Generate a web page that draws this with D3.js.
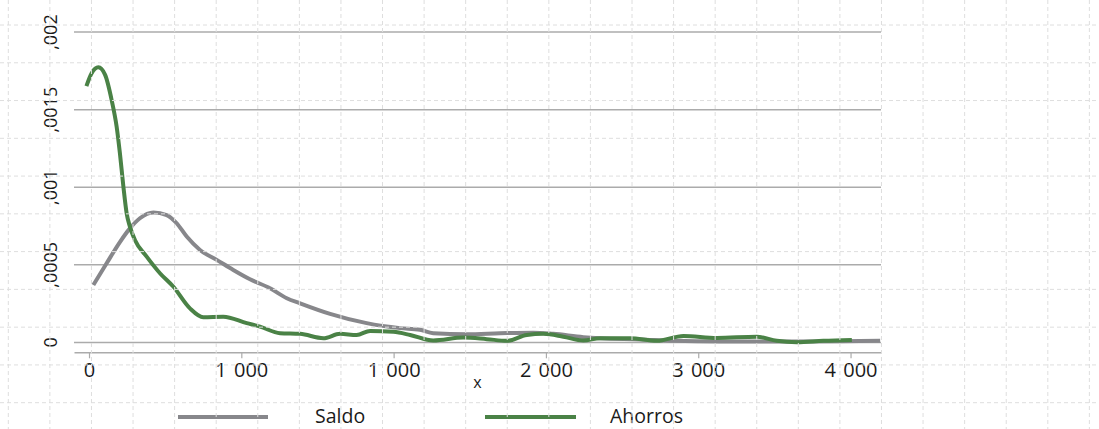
<!DOCTYPE html>
<html>
<head>
<meta charset="utf-8">
<script src="https://cdn.jsdelivr.net/npm/d3@7"></script>
<style>
  html, body { margin: 0; padding: 0; background: #fff; }
  svg { display: block; }
  text { font-family: "Open Sans", sans-serif; fill: #1a1a1a; }
</style>
</head>
<body>
<div id="chart"></div>
<script>
// ---- data ----
const saldoX = [20, 81, 142, 188, 234, 296, 357, 403, 449, 510, 587, 663, 740, 832, 909, 970, 1108, 1276, 1430, 1521, 1582, 1736, 1889, 2042, 2134, 2272, 2349, 2533, 2686, 2901, 3177, 3452, 3636];
const saldoY = [0.000370, 0.000510, 0.000647, 0.000735, 0.000800, 0.000837, 0.000821, 0.000768, 0.000682, 0.000596, 0.000532, 0.000467, 0.000407, 0.000349, 0.000285, 0.000252, 0.000184, 0.000124, 0.000092, 0.000081, 0.000059, 0.000053, 0.000059, 0.000063, 0.000055, 0.000034, 0.000027, 0.000019, 0.000010, 0.000006, 0.000006, 0.000008, 0.000010];

const ahorrosX = [-12, 12, 43, 74, 104, 127, 142, 158, 173, 188, 211, 265, 326, 387, 464, 525, 617, 725, 786, 878, 970, 1077, 1154, 1230, 1292, 1399, 1476, 1582, 1720, 1828, 1920, 2012, 2088, 2180, 2272, 2349, 2487, 2609, 2732, 2885, 3069, 3161, 3253, 3375, 3506];
const ahorrosY = [0.001652, 0.001735, 0.001773, 0.001724, 0.001562, 0.001390, 0.001219, 0.001004, 0.000832, 0.000746, 0.000660, 0.000553, 0.000446, 0.000360, 0.000219, 0.000162, 0.000166, 0.000124, 0.000102, 0.000059, 0.000055, 0.000027, 0.000055, 0.000048, 0.000074, 0.000068, 0.000048, 0.000012, 0.000031, 0.000021, 0.000010, 0.000048, 0.000055, 0.000037, 0.000012, 0.000027, 0.000027, 0.000010, 0.000042, 0.000029, 0.000037, 0.000010, 0.000001, 0.000010, 0.000016];

const xTicks = [0, 700, 1400, 2100, 2800, 3500];
const xTickLabels = ["0", "1 000", "1 000", "2 000", "3 000", "4 000"];
const yTicks = [0, 0.0005, 0.001, 0.0015, 0.002];
const yTickLabels = ["0", ",0005", ",001", ",0015", ",002"];
const seriesNames = ["Saldo", "Ahorros"];
const seriesColors = ["#87878b", "#4a8246"];
const axisTitle = "x";

// ---- layout ----
const W = 1099, H = 429;
const svg = d3.select("#chart").append("svg").attr("width", W).attr("height", H);

const x = d3.scaleLinear().domain([-69, 3640]).range([74, 881]);
const y = d3.scaleLinear().domain([0, 0.002]).range([342.4, 32.1]);

// horizontal gridlines
svg.append("g").selectAll("line").data(yTicks).join("line")
  .attr("x1", x.range()[0]).attr("x2", x.range()[1])
  .attr("y1", d => y(d)).attr("y2", d => y(d))
  .attr("stroke", "#ababab").attr("stroke-width", 1.5);

// y labels (rotated)
svg.append("g").selectAll("text").data(yTicks).join("text")
  .attr("transform", d => `translate(57,${y(d)}) rotate(-90)`)
  .attr("text-anchor", "middle")
  .attr("font-size", 18)
  .text((d, i) => yTickLabels[i]);

// x axis
const xAxis = d3.axisBottom(x).tickValues(xTicks).tickSize(6).tickSizeOuter(0)
  .tickFormat((d, i) => xTickLabels[i]);
const gx = svg.append("g").attr("transform", "translate(0,352.3)").call(xAxis);
gx.select(".domain").attr("stroke", "#ababab").attr("stroke-width", 1.5);
gx.selectAll(".tick line").attr("stroke", "#ababab").attr("stroke-width", 1.2);
gx.selectAll(".tick text").attr("font-size", 20).attr("font-family", "Open Sans, sans-serif")
  .attr("fill", "#1a1a1a").attr("y", 11).attr("dy", "0.71em").attr("word-spacing", 2);

svg.append("text").attr("x", (x.range()[0] + x.range()[1]) / 2).attr("y", 387.5)
  .attr("text-anchor", "middle").attr("font-size", 16).text(axisTitle);

// lines
const line = d3.line().x(d => x(d[0])).y(d => y(d[1])).curve(d3.curveMonotoneX);
const series = [d3.zip(saldoX, saldoY), d3.zip(ahorrosX, ahorrosY)];
svg.append("g").selectAll("path").data(series).join("path")
  .attr("d", line).attr("fill", "none")
  .attr("stroke", (d, i) => seriesColors[i])
  .attr("stroke-width", 4).attr("stroke-linejoin", "round");

// legend
const legendItems = [{lx1: 178, lx2: 268, tx: 315}, {lx1: 485, lx2: 576, tx: 610}];
const lg = svg.append("g");
lg.selectAll("line").data(seriesNames).join("line")
  .attr("x1", (d, i) => legendItems[i].lx1).attr("x2", (d, i) => legendItems[i].lx2)
  .attr("y1", 417).attr("y2", 417)
  .attr("stroke", (d, i) => seriesColors[i]).attr("stroke-width", 4);
lg.selectAll("text").data(seriesNames).join("text")
  .attr("x", (d, i) => legendItems[i].tx).attr("y", 422.5)
  .attr("font-size", 19.5).text(d => d);

// dashed paper grid overlay
const vx = d3.range(27).map(k => 8.3 + 41.58 * k);
const hy = d3.range(11).map(k => 25 + 37.77 * k);
const ov = svg.append("g").attr("stroke", "#dedede").attr("stroke-width", 1).attr("stroke-dasharray", "4,3");
ov.selectAll("line.v").data(vx).join("line").attr("class", "v")
  .attr("x1", d => d).attr("x2", d => d).attr("y1", 0).attr("y2", H);
ov.selectAll("line.h").data(hy).join("line").attr("class", "h")
  .attr("y1", d => d).attr("y2", d => d).attr("x1", 0).attr("x2", W);
</script>
</body>
</html>
